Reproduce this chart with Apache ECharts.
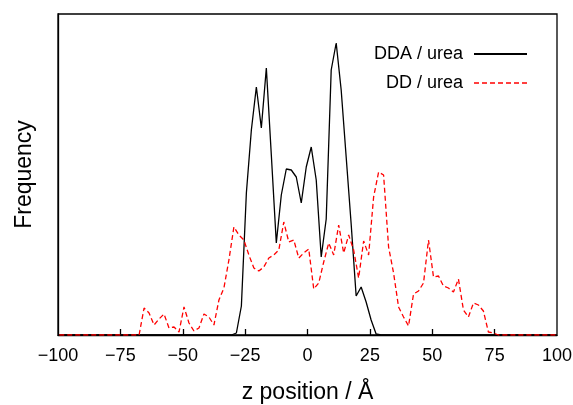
<!DOCTYPE html>
<html>
<head>
<meta charset="utf-8">
<script src="https://cdn.jsdelivr.net/npm/echarts@6/dist/echarts.min.js"></script>
<style>
  html, body { margin: 0; padding: 0; background: #fff; }
  #chart { width: 573px; height: 405px; }
</style>
</head>
<body>
<div id="chart"></div>
<script>
// z positions (Å) and frequency histograms (arbitrary units)
const zDDA = [-99.5, -30.5, -28.5, -26.5, -24.5, -22.5, -20.5, -18.5, -16.5, -14.5, -12.5,
  -10.5, -8.5, -6.5, -4.5, -2.5, -0.5, 1.5, 3.5, 5.5, 7.5, 9.5, 11.5, 13.5, 15.5, 17.5,
  19.5, 21.5, 23.5, 25.5, 27.5, 29.5, 99.5];
const freqDDA = [0, 0, 2, 29, 142, 205, 248, 207, 267, 180, 92,
  140, 166, 165, 158, 132, 168, 188, 155, 78, 116, 265, 292, 245, 178, 111,
  39, 48, 33, 15, 1, 0, 0];

const zDD = [-99.5, -67.5, -65.5, -63.5, -61.5, -59.5, -57.5, -55.5, -53.5, -51.5, -49.5,
  -47.5, -45.5, -43.5, -41.5, -39.5, -37.5, -35.5, -33.5, -31.5, -29.5, -27.5, -25.5,
  -23.5, -21.5, -19.5, -17.5, -15.5, -13.5, -11.5, -9.5, -7.5, -5.5, -3.5, -1.5, 0.5,
  2.5, 4.5, 6.5, 8.5, 10.5, 12.5, 14.5, 16.5, 18.5, 20.5, 22.5, 24.5, 26.5, 28.5, 30.5,
  32.5, 34.5, 36.5, 38.5, 40.5, 42.5, 44.5, 46.5, 48.5, 50.5, 52.5, 54.5, 56.5, 58.5,
  60.5, 62.5, 64.5, 66.5, 68.5, 70.5, 72.5, 74.5, 76.5, 99.5];
const freqDD = [0, 0, 27, 22, 10, 16, 21, 7, 8, 3, 28,
  12, 4, 7, 21, 18, 10, 35, 47, 75, 108, 100, 95,
  80, 67, 64, 68, 77, 80, 85, 113, 93, 95, 77, 82, 86,
  46, 52, 73, 92, 80, 110, 82, 100, 85, 57, 94, 80, 138, 163, 160,
  88, 62, 28, 18, 9, 41, 44, 52, 95, 58, 59, 49, 47, 43,
  56, 25, 18, 32, 30, 24, 3, 2, 0, 0];

const xTicks = [-100, -75, -50, -25, 0, 25, 50, 75, 100];
const seriesNames = ['DDA / urea', 'DD / urea'];

const pairs = (xs, ys) => xs.map((x, i) => [x, ys[i]]);
const FONT = 'Liberation Sans';
const DASH = [5, 3];

const chart = echarts.init(document.getElementById('chart'), null, { renderer: 'canvas' });
chart.setOption({
  animation: false,
  backgroundColor: '#ffffff',
  textStyle: { fontFamily: FONT, color: '#000' },
  grid: {
    left: 58, right: 16, top: 14, bottom: 70,
    outerBoundsMode: 'none',
    containLabel: false,
    show: true, borderColor: '#000', borderWidth: 1.3, backgroundColor: 'transparent'
  },
  legend: {
    orient: 'vertical',
    align: 'right',
    right: 40,
    top: 40,
    itemWidth: 53,
    itemHeight: 12,
    itemGap: 11,
    itemStyle: { opacity: 0 },
    textStyle: { fontFamily: FONT, fontSize: 18, color: '#000', padding: [0, 6, 0, 0] },
    data: [
      { name: seriesNames[0] },
      { name: seriesNames[1], lineStyle: { type: DASH, width: 1.3 } }
    ]
  },
  xAxis: {
    type: 'value',
    min: -100, max: 100, interval: 25,
    name: 'z position / Å',
    nameLocation: 'middle',
    nameGap: 46,
    nameTextStyle: { fontFamily: FONT, fontSize: 23, color: '#000' },
    axisLine: { show: true, onZero: false, lineStyle: { color: '#000', width: 1.3 } },
    axisTick: {
      show: true, inside: true, length: 6,
      customValues: xTicks.slice(1, -1),
      lineStyle: { color: '#000', width: 1.3 }
    },
    axisLabel: {
      fontFamily: FONT, fontSize: 18, color: '#000', margin: 12,
      customValues: xTicks,
      formatter: v => String(v).replace('-', '\u2212')
    },
    splitLine: { show: false }
  },
  yAxis: {
    type: 'value',
    min: 0, max: 321,
    name: 'Frequency',
    nameLocation: 'middle',
    nameGap: 22,
    nameTextStyle: { fontFamily: FONT, fontSize: 23, color: '#000' },
    axisLine: { show: true, onZero: false, lineStyle: { color: '#000', width: 1.3 } },
    axisTick: { show: false },
    axisLabel: { show: false },
    splitLine: { show: false }
  },
  series: [
    {
      name: seriesNames[0],
      type: 'line',
      data: pairs(zDDA, freqDDA),
      symbol: 'none',
      lineStyle: { color: '#000', width: 1.3 },
      itemStyle: { color: '#000' },
      z: 2
    },
    {
      name: seriesNames[1],
      type: 'line',
      data: pairs(zDD, freqDD),
      symbol: 'none',
      lineStyle: { color: '#ff0000', width: 1.3, type: DASH },
      itemStyle: { color: '#ff0000' },
      z: 3
    }
  ]
});
</script>
</body>
</html>
